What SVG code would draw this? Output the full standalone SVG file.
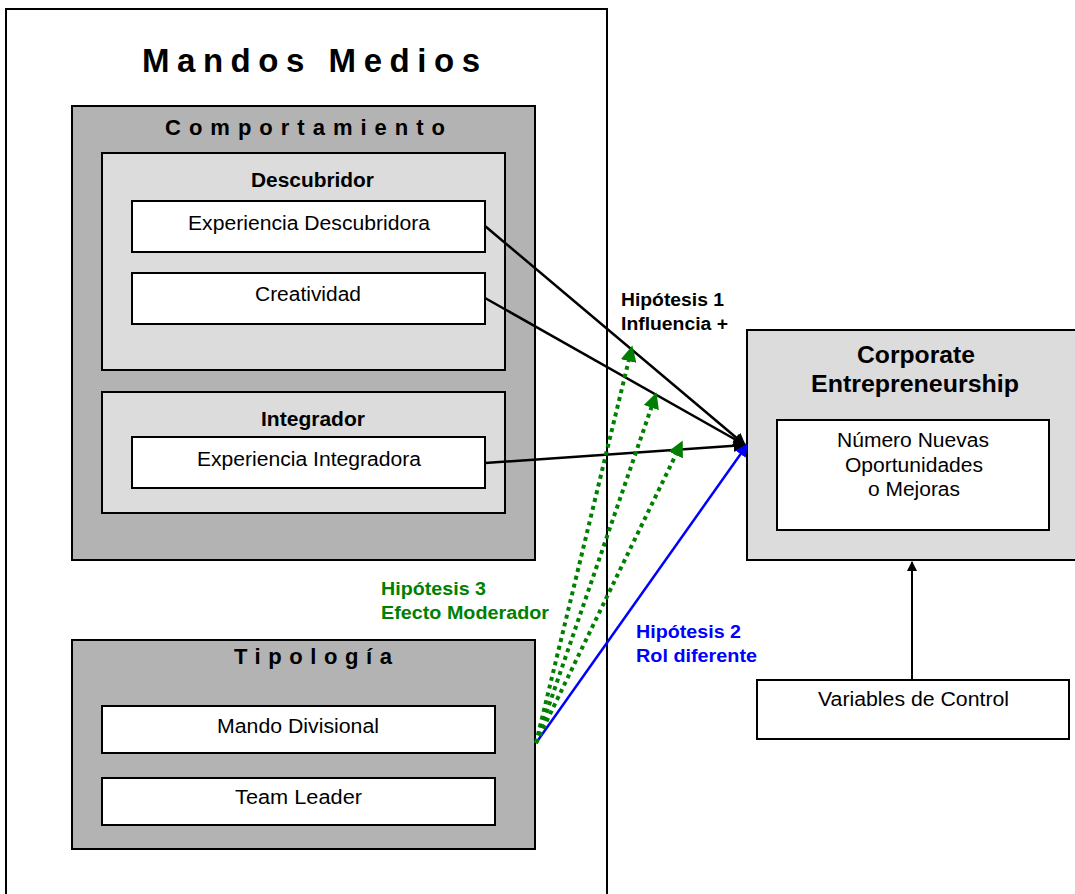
<svg xmlns="http://www.w3.org/2000/svg" width="1075" height="894" viewBox="0 0 1075 894">
<defs>
<style>
text{font-family:"Liberation Sans",Arial,sans-serif;fill:#000}
.b{font-weight:bold}
.box{stroke:#000;stroke-width:2}
.dark{fill:#b3b3b3}
.light{fill:#dcdcdc}
.white{fill:#fff}
.reg{font-size:19.5px}
.hdr{font-size:19.5px;font-weight:bold}
.sp{font-weight:bold;font-size:22px}
.lab{font-size:17.5px;font-weight:bold}
</style>
<marker id="ak" viewBox="0 0 10 10" refX="9" refY="5" markerWidth="5" markerHeight="5" orient="auto" markerUnits="strokeWidth"><path d="M0,0L10,5L0,10z" fill="#000"/></marker>
<marker id="ab" viewBox="0 0 10 10" refX="9" refY="5" markerWidth="5" markerHeight="5" orient="auto" markerUnits="strokeWidth"><path d="M0,0L10,5L0,10z" fill="#0000ff"/></marker>
<marker id="ag" viewBox="0 0 10 10" refX="9" refY="5" markerWidth="4" markerHeight="4" orient="auto" markerUnits="strokeWidth"><path d="M0,0L10,5L0,10z" fill="#008000"/></marker>
</defs>
<rect width="1075" height="894" fill="#fff"/>
<g id="mandos-medios">
<rect x="6" y="9" width="601" height="900" class="box white"/>
<text x="142" y="72" textLength="338" lengthAdjust="spacing" style="font-weight:bold;font-size:33px">Mandos Medios</text>
</g>
<g id="comportamiento">
<rect x="72" y="106" width="463" height="454" class="box dark"/>
<text x="165" y="135" textLength="280" lengthAdjust="spacing" class="sp">Comportamiento</text>
</g>
<g id="descubridor">
<rect x="102" y="153" width="403" height="217" class="box light"/>
<text x="251" y="187" textLength="123" lengthAdjust="spacingAndGlyphs" class="hdr">Descubridor</text>
</g>
<g id="exp-descubridora">
<rect x="132" y="201" width="353" height="51" class="box white"/>
<text x="188" y="230" textLength="242" lengthAdjust="spacingAndGlyphs" class="reg">Experiencia Descubridora</text>
</g>
<g id="creatividad">
<rect x="132" y="273" width="353" height="51" class="box white"/>
<text x="255" y="301" textLength="106" lengthAdjust="spacingAndGlyphs" class="reg">Creatividad</text>
</g>
<g id="integrador">
<rect x="102" y="392" width="403" height="121" class="box light"/>
<text x="261" y="426" textLength="104" lengthAdjust="spacingAndGlyphs" class="hdr">Integrador</text>
</g>
<g id="exp-integradora">
<rect x="132" y="437" width="353" height="51" class="box white"/>
<text x="197" y="466" textLength="224" lengthAdjust="spacingAndGlyphs" class="reg">Experiencia Integradora</text>
</g>
<g id="tipologia">
<rect x="72" y="640" width="463" height="209" class="box dark"/>
<text x="234" y="664" textLength="158" lengthAdjust="spacing" class="sp">Tipología</text>
</g>
<g id="mando-divisional">
<rect x="102" y="706" width="393" height="47" class="box white"/>
<text x="217" y="733" textLength="162" lengthAdjust="spacingAndGlyphs" class="reg">Mando Divisional</text>
</g>
<g id="team-leader">
<rect x="102" y="778" width="393" height="47" class="box white"/>
<text x="235" y="804" textLength="127" lengthAdjust="spacingAndGlyphs" class="reg">Team Leader</text>
</g>
<g id="corporate">
<rect x="747" y="330" width="330" height="230" class="box light"/>
<text x="857" y="363" textLength="118" lengthAdjust="spacingAndGlyphs" class="b" style="font-size:23px">Corporate</text>
<text x="811" y="392" textLength="208" lengthAdjust="spacingAndGlyphs" class="b" style="font-size:23px">Entrepreneurship</text>
</g>
<g id="numero">
<rect x="777" y="420" width="272" height="110" class="box white"/>
<text x="837" y="447" textLength="152" lengthAdjust="spacingAndGlyphs" class="reg">Número Nuevas</text>
<text x="845" y="472" textLength="138" lengthAdjust="spacingAndGlyphs" class="reg">Oportunidades</text>
<text x="868" y="496" textLength="92" lengthAdjust="spacingAndGlyphs" class="reg">o Mejoras</text>
</g>
<g id="variables">
<rect x="757" y="680" width="312" height="59" class="box white"/>
<text x="818" y="706" textLength="191" lengthAdjust="spacingAndGlyphs" class="reg">Variables de Control</text>
</g>
<g id="connectors">
<line x1="485" y1="226" x2="745" y2="445" stroke="#000" stroke-width="2.5" marker-end="url(#ak)"/>
<line x1="485" y1="298" x2="745" y2="445" stroke="#000" stroke-width="2.5" marker-end="url(#ak)"/>
<line x1="485" y1="463" x2="745" y2="445" stroke="#000" stroke-width="2.5" marker-end="url(#ak)"/>
<line x1="536" y1="743" x2="747" y2="445" stroke="#0000ff" stroke-width="2.5" marker-end="url(#ab)"/>
<line x1="536" y1="743" x2="632" y2="347" stroke="#008000" stroke-width="4" stroke-dasharray="4,4" marker-end="url(#ag)"/>
<line x1="536" y1="743" x2="656" y2="394" stroke="#008000" stroke-width="4" stroke-dasharray="4,4" marker-end="url(#ag)"/>
<line x1="536" y1="743" x2="682" y2="442" stroke="#008000" stroke-width="4" stroke-dasharray="4,4" marker-end="url(#ag)"/>
<line x1="912" y1="680" x2="912" y2="562" stroke="#000" stroke-width="2" marker-end="url(#ak)"/>
<text x="621" y="306" textLength="103" lengthAdjust="spacingAndGlyphs" class="lab">Hipótesis 1</text>
<text x="621" y="330" textLength="107" lengthAdjust="spacingAndGlyphs" class="lab">Influencia +</text>
<text x="381" y="595" textLength="105" lengthAdjust="spacingAndGlyphs" class="lab" style="fill:#008000">Hipótesis 3</text>
<text x="381" y="619" textLength="168" lengthAdjust="spacingAndGlyphs" class="lab" style="fill:#008000">Efecto Moderador</text>
<text x="636" y="638" textLength="105" lengthAdjust="spacingAndGlyphs" class="lab" style="fill:#0000ff">Hipótesis 2</text>
<text x="636" y="662" textLength="121" lengthAdjust="spacingAndGlyphs" class="lab" style="fill:#0000ff">Rol diferente</text>
</g>
</svg>
